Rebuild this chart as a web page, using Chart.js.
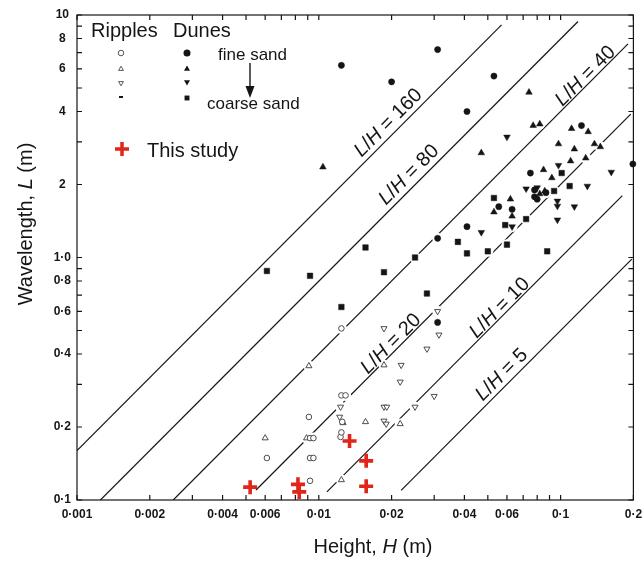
<!DOCTYPE html>
<html lang="en">
<head>
<meta charset="UTF-8">
<title>Bedform wavelength vs height</title>
<style>
  html, body { margin: 0; padding: 0; background: #fff; }
  canvas { display: block; }
</style>
</head>
<body>
<canvas id="chart" width="644" height="561"></canvas>
<script src="https://cdn.jsdelivr.net/npm/chart.js@4"></script>
<script>
// axis ticks (log scales) and their printed labels
const xTickValues = [0.001, 0.002, 0.003, 0.004, 0.005, 0.006, 0.007, 0.008, 0.009,
  0.01, 0.02, 0.03, 0.04, 0.05, 0.06, 0.07, 0.08, 0.09, 0.1, 0.2];
const xLabelValues = [0.001, 0.002, 0.004, 0.006, 0.01, 0.02, 0.04, 0.06, 0.1, 0.2];
const xLabelText = ['0·001', '0·002', '0·004', '0·006', '0·01', '0·02', '0·04', '0·06', '0·1', '0·2'];
const yTickValues = [0.1, 0.2, 0.3, 0.4, 0.5, 0.6, 0.7, 0.8, 0.9, 1, 2, 3, 4, 5, 6, 7, 8, 9, 10];
const yLabelValues = [0.1, 0.2, 0.4, 0.6, 0.8, 1, 2, 4, 6, 8, 10];
const yLabelText = ['0·1', '0·2', '0·4', '0·6', '0·8', '1·0', '2', '4', '6', '8', '10'];

// [H, L] in metres
const duneCircles = [[0.0124, 6.2], [0.020, 5.3], [0.031, 7.2], [0.041, 4.0], [0.053, 5.6], [0.122, 3.5],
  [0.199, 2.43], [0.075, 2.23], [0.0555, 1.62], [0.063, 1.58], [0.041, 1.34], [0.031, 1.2], [0.031, 0.54],
  [0.078, 1.9], [0.087, 1.85], [0.078, 1.78], [0.080, 1.74]];
const duneTriUp = [[0.0104, 2.36], [0.074, 4.8], [0.077, 3.5], [0.082, 3.55], [0.047, 2.7], [0.111, 3.4],
  [0.13, 3.3], [0.098, 2.94], [0.138, 2.94], [0.146, 2.86], [0.114, 2.8], [0.127, 2.57], [0.11, 2.5],
  [0.085, 2.3], [0.092, 2.13], [0.053, 1.54], [0.062, 1.74], [0.063, 1.48], [0.086, 1.88], [0.082, 1.83]];
const duneTriDown = [[0.060, 3.14], [0.098, 2.4], [0.162, 2.25], [0.072, 1.92], [0.080, 1.94], [0.129, 1.97],
  [0.097, 1.71], [0.097, 1.63], [0.114, 1.62], [0.097, 1.43], [0.063, 1.34], [0.047, 1.27]];
const duneSquares = [[0.0061, 0.88], [0.0092, 0.84], [0.0156, 1.1], [0.0186, 0.87], [0.0124, 0.625],
  [0.028, 0.71], [0.025, 1.0], [0.0376, 1.16], [0.041, 1.04], [0.050, 1.06], [0.060, 1.13], [0.059, 1.36],
  [0.072, 1.44], [0.088, 1.06], [0.053, 1.76], [0.101, 2.23], [0.094, 1.88], [0.109, 1.97]];
const rippleCircles = [[0.0124, 0.51], [0.0124, 0.27], [0.0129, 0.27], [0.0091, 0.22], [0.0125, 0.21],
  [0.0092, 0.18], [0.0095, 0.18], [0.0123, 0.182], [0.0061, 0.149], [0.0092, 0.149], [0.0095, 0.149],
  [0.0092, 0.12], [0.0124, 0.19]];
const rippleTriUp = [[0.0091, 0.357], [0.0186, 0.36], [0.006, 0.18], [0.0089, 0.18], [0.0156, 0.21],
  [0.0217, 0.206], [0.0124, 0.121], [0.0126, 0.208]];
const rippleTriDown = [[0.0186, 0.51], [0.0219, 0.36], [0.0217, 0.307], [0.031, 0.60], [0.0314, 0.48],
  [0.028, 0.42], [0.0123, 0.242], [0.0122, 0.22], [0.0186, 0.242], [0.0191, 0.242], [0.025, 0.242],
  [0.030, 0.268], [0.0186, 0.212], [0.019, 0.206]];
const thisStudy = [[0.0052, 0.113], [0.0082, 0.116], [0.0083, 0.108], [0.0134, 0.175], [0.0157, 0.145],
  [0.0157, 0.114]];

// constant L/H guide lines, end points
const ratioValues = [160, 80, 40, 20, 10, 5];
const ratioLineStart = [[0.001, 0.16], [0.00125, 0.1], [0.0025, 0.1], [0.0055, 0.11], [0.0108, 0.108], [0.0219, 0.1095]];
const ratioLineEnd = [[0.057, 9.1], [0.118, 9.4], [0.19, 7.6], [0.195, 3.9], [0.18, 1.8], [0.197, 0.985]];
const ratioLabelAt = [[0.0194, 3.59], [0.0236, 2.19], [0.1268, 5.6], [0.0199, 0.44], [0.056, 0.619], [0.0571, 0.328]];

const FONT = '"Liberation Sans", Arial, sans-serif';
const INK = '#151515';

function labelFor(v, vals, texts) {
  const i = vals.findIndex(t => Math.abs(t - v) / t < 1e-6);
  return i < 0 ? '' : texts[i];
}
const pts = arr => arr.map(p => ({ x: p[0], y: p[1] }));

function richText(ctx, parts, x, y, size, align) {
  const fontFor = it => (it ? 'italic ' : '') + size + 'px ' + FONT;
  let total = 0;
  parts.forEach(([t, it]) => { ctx.font = fontFor(it); total += ctx.measureText(t).width; });
  let cx = align === 'center' ? x - total / 2 : x;
  ctx.textAlign = 'left';
  parts.forEach(([t, it]) => {
    ctx.font = fontFor(it);
    ctx.fillText(t, cx, y);
    cx += ctx.measureText(t).width;
  });
}

function mark(ctx, style, px, py, r, filled) {
  ctx.beginPath();
  if (style === 'circle') {
    ctx.arc(px, py, r, 0, 2 * Math.PI);
  } else if (style === 'up' || style === 'down') {
    const s = style === 'up' ? 1 : -1;
    ctx.moveTo(px, py - s * r);
    ctx.lineTo(px + r * 0.866, py + s * r / 2);
    ctx.lineTo(px - r * 0.866, py + s * r / 2);
    ctx.closePath();
  } else if (style === 'square') {
    ctx.rect(px - r * 0.7, py - r * 0.7, r * 1.4, r * 1.4);
  } else if (style === 'dash') {
    ctx.rect(px - 2, py - 1, 4, 2);
    filled = true;
  }
  if (filled) {
    ctx.fillStyle = INK; ctx.fill();
  } else {
    ctx.fillStyle = '#fff'; ctx.fill();
    ctx.lineWidth = 0.9; ctx.strokeStyle = '#444'; ctx.stroke();
  }
}

const notesPlugin = {
  id: 'notes',
  afterDraw(chart) {
    const { ctx, chartArea: a, scales: { x, y } } = chart;
    ctx.save();
    // frame + inward ticks on all four sides
    ctx.strokeStyle = INK;
    ctx.lineWidth = 1.2;
    ctx.strokeRect(a.left, a.top, a.right - a.left, a.bottom - a.top);
    ctx.beginPath();
    xTickValues.forEach(v => {
      const px = x.getPixelForValue(v);
      ctx.moveTo(px, a.bottom); ctx.lineTo(px, a.bottom - 5);
      ctx.moveTo(px, a.top); ctx.lineTo(px, a.top + 5);
    });
    yTickValues.forEach(v => {
      const py = y.getPixelForValue(v);
      ctx.moveTo(a.left, py); ctx.lineTo(a.left + 5, py);
      ctx.moveTo(a.right, py); ctx.lineTo(a.right - 5, py);
    });
    ctx.stroke();

    ctx.fillStyle = INK;
    ctx.textBaseline = 'middle';
    // L/H labels along the guide lines
    ratioValues.forEach((r, i) => {
      const px = x.getPixelForValue(ratioLabelAt[i][0]);
      const py = y.getPixelForValue(ratioLabelAt[i][1]);
      ctx.save();
      ctx.translate(px, py);
      ctx.rotate(-Math.PI / 4);
      ctx.fillStyle = INK;
      richText(ctx, [['L', true], ['/', false], ['H', true], [' = ' + r, false]], 0, 0, 20, 'center');
      ctx.restore();
    });

    // axis titles
    ctx.textBaseline = 'alphabetic';
    richText(ctx, [['Height, ', false], ['H', true], [' (m)', false]], 373, 553, 20, 'center');
    ctx.save();
    ctx.translate(32, 224);
    ctx.rotate(-Math.PI / 2);
    richText(ctx, [['Wavelength, ', false], ['L', true], [' (m)', false]], 0, 0, 20, 'center');
    ctx.restore();

    // legend
    ctx.fillStyle = INK;
    ctx.font = '20px ' + FONT;
    ctx.textAlign = 'left';
    ctx.fillText('Ripples', 91, 37);
    ctx.fillText('Dunes', 173, 37);
    ctx.font = '17px ' + FONT;
    ctx.fillText('fine sand', 218, 60);
    ctx.fillText('coarse sand', 207, 109);
    ['circle', 'up', 'down', 'dash'].forEach((s, i) => mark(ctx, s, 121, [53, 69, 83, 97][i], 2.8, false));
    ['circle', 'up', 'down', 'square'].forEach((s, i) => mark(ctx, s, 187, [53, 69, 82, 98][i], 3.5, true));
    // arrow fine -> coarse
    ctx.strokeStyle = INK;
    ctx.lineWidth = 1.4;
    ctx.beginPath(); ctx.moveTo(250, 63); ctx.lineTo(250, 90); ctx.stroke();
    ctx.fillStyle = INK;
    ctx.beginPath(); ctx.moveTo(250, 98); ctx.lineTo(245.5, 86); ctx.lineTo(254.5, 86); ctx.closePath(); ctx.fill();
    // this study
    ctx.strokeStyle = '#e3241b';
    ctx.lineWidth = 3.5;
    ctx.beginPath();
    ctx.moveTo(115, 149); ctx.lineTo(129, 149);
    ctx.moveTo(122, 142); ctx.lineTo(122, 156);
    ctx.stroke();
    ctx.fillStyle = INK;
    ctx.font = '20px ' + FONT;
    ctx.fillText('This study', 147, 157);
    ctx.restore();
  }
};

const datasets = [];
ratioValues.forEach((r, i) => {
  datasets.push({
    label: 'L/H = ' + r,
    data: pts([ratioLineStart[i], ratioLineEnd[i]]),
    showLine: true,
    borderColor: INK,
    borderWidth: 1.2,
    pointRadius: 0,
    order: 5
  });
});
// white halo so the guide lines break around the symbols, as in the original
datasets.push({
  label: 'halo',
  data: pts([...duneCircles, ...duneTriUp, ...duneTriDown, ...duneSquares,
    ...rippleCircles, ...rippleTriUp, ...rippleTriDown]),
  pointRadius: 5.5,
  pointBackgroundColor: '#fff',
  pointBorderWidth: 0,
  order: 4
});
const filled = (label, data, style, radius, rotation) => ({
  label, data: pts(data), pointStyle: style, pointRadius: radius, pointRotation: rotation || 0,
  pointBackgroundColor: INK, pointBorderColor: INK, pointBorderWidth: 0.5, order: 2, clip: 6
});
const open = (label, data, style, radius, rotation) => ({
  label, data: pts(data), pointStyle: style, pointRadius: radius, pointRotation: rotation || 0,
  pointBackgroundColor: '#fff', pointBorderColor: '#3a3a3a', pointBorderWidth: 0.9, order: 3
});
datasets.push(open('Ripples, circles', rippleCircles, 'circle', 2.8));
datasets.push(open('Ripples, triangles', rippleTriUp, 'triangle', 3.5));
datasets.push(open('Ripples, inverted triangles', rippleTriDown, 'triangle', 3.5, 180));
datasets.push(filled('Dunes, circles', duneCircles, 'circle', 3.1));
datasets.push(filled('Dunes, triangles', duneTriUp, 'triangle', 3.8));
datasets.push(filled('Dunes, inverted triangles', duneTriDown, 'triangle', 3.8, 180));
datasets.push(filled('Dunes, squares', duneSquares, 'rect', 3.9));
datasets.push({
  label: 'This study',
  data: pts(thisStudy),
  pointStyle: 'cross',
  pointRadius: 7,
  pointBorderColor: '#e3241b',
  pointBorderWidth: 3.6,
  order: 1
});

const tickFont = { family: FONT, size: 12, weight: 'bold' };

new Chart(document.getElementById('chart'), {
  type: 'scatter',
  data: { datasets },
  options: {
    responsive: false,
    animation: false,
    events: [],
    layout: { padding: { top: 15, right: 6, left: 0, bottom: 0 } },
    plugins: { legend: { display: false }, tooltip: { enabled: false } },
    scales: {
      x: {
        type: 'logarithmic',
        min: 0.001,
        max: 0.2,
        afterBuildTicks: s => { s.ticks = xTickValues.map(v => ({ value: v })); },
        afterFit: s => { s.height = 61; s.paddingLeft = 0; s.paddingRight = 0; },
        grid: { display: false, drawTicks: false },
        border: { display: false },
        ticks: {
          autoSkip: false, maxRotation: 0, minRotation: 0, padding: 7,
          color: INK, font: tickFont,
          callback: v => labelFor(v, xLabelValues, xLabelText)
        }
      },
      y: {
        type: 'logarithmic',
        min: 0.1,
        max: 10,
        afterBuildTicks: s => { s.ticks = yTickValues.map(v => ({ value: v })); },
        afterFit: s => { s.width = 77; s.paddingTop = 0; s.paddingBottom = 0; },
        grid: { display: false, drawTicks: false },
        border: { display: false },
        ticks: {
          autoSkip: false, padding: 6, crossAlign: 'center',
          color: INK, font: tickFont,
          callback: v => labelFor(v, yLabelValues, yLabelText)
        }
      }
    }
  },
  plugins: [notesPlugin]
});
</script>
</body>
</html>
